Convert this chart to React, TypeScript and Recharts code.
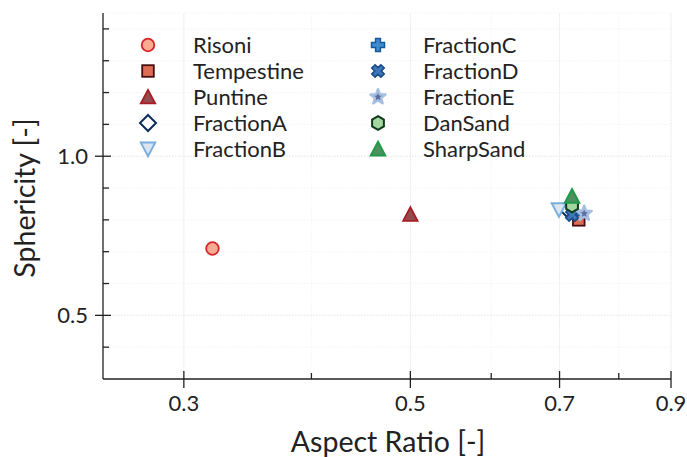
import React from 'react';
import { ScatterChart, Scatter, XAxis, YAxis, CartesianGrid, Legend, ReferenceLine } from 'recharts';

// Measured particle shape descriptors: aspect ratio vs. sphericity
const risoni = [{ ar: 0.32, sph: 0.71 }];
const tempestine = [{ ar: 0.731, sph: 0.80 }];
const puntine = [{ ar: 0.5, sph: 0.817 }];
const fractionA = [{ ar: 0.714, sph: 0.83 }];
const fractionB = [{ ar: 0.699, sph: 0.832 }];
const fractionC = [{ ar: 0.724, sph: 0.822 }];
const fractionD = [{ ar: 0.72, sph: 0.816 }];
const fractionE = [{ ar: 0.74, sph: 0.82 }];
const danSand = [{ ar: 0.72, sph: 0.845 }];
const sharpSand = [{ ar: 0.72, sph: 0.874 }];

const xTicks = [0.3, 0.4, 0.5, 0.6, 0.7, 0.8, 0.9];
const xMajor = [0.3, 0.5, 0.7, 0.9];
const yTicks = [0.4, 0.5, 0.6, 0.7, 0.8, 0.9, 1.0, 1.1, 1.2, 1.3, 1.4];
const yMajor = [0.5, 1.0];

const FONT = 'Lato, "Open Sans", sans-serif';
const INK = '#222';

type Kind = 'circle' | 'square' | 'up' | 'diamond' | 'down' | 'plus' | 'cross' | 'star' | 'hex';
type Style = { kind: Kind; fill: string; stroke: string; sw: number };

const styles: Record<string, Style> = {
  Risoni: { kind: 'circle', fill: '#fbab92', stroke: '#d7232a', sw: 1.8 },
  Tempestine: { kind: 'square', fill: '#dc6c54', stroke: '#4a0d10', sw: 1.8 },
  Puntine: { kind: 'up', fill: '#944b4d', stroke: '#a81d24', sw: 1.8 },
  FractionA: { kind: 'diamond', fill: '#ffffff', stroke: '#0b2d57', sw: 2 },
  FractionB: { kind: 'down', fill: '#dbe5f2', stroke: '#7aaedb', sw: 2 },
  FractionC: { kind: 'plus', fill: '#3f8ccc', stroke: '#14589c', sw: 1.5 },
  FractionD: { kind: 'cross', fill: '#3f76b6', stroke: '#154a88', sw: 1.5 },
  FractionE: { kind: 'star', fill: '#5d6f9f', stroke: '#a6bfe0', sw: 2.5 },
  DanSand: { kind: 'hex', fill: '#a3d79d', stroke: '#0f3a20', sw: 2 },
  SharpSand: { kind: 'up', fill: '#4c9160', stroke: '#1f9a48', sw: 2 },
};

const series = [
  { name: 'Risoni', data: risoni },
  { name: 'Tempestine', data: tempestine },
  { name: 'Puntine', data: puntine },
  { name: 'FractionA', data: fractionA },
  { name: 'FractionB', data: fractionB },
  { name: 'FractionC', data: fractionC },
  { name: 'FractionD', data: fractionD },
  { name: 'FractionE', data: fractionE },
  { name: 'DanSand', data: danSand },
  { name: 'SharpSand', data: sharpSand },
];

function Marker({ cx, cy, s }: { cx: number; cy: number; s: Style }) {
  const common = { fill: s.fill, stroke: s.stroke, strokeWidth: s.sw, strokeLinejoin: 'miter' as const };
  const pts = (arr: number[][]) => arr.map(([dx, dy]) => `${cx + dx},${cy + dy}`).join(' ');
  switch (s.kind) {
    case 'circle':
      return <circle cx={cx} cy={cy} r={6.3} {...common} />;
    case 'square':
      return <rect x={cx - 5.8} y={cy - 5.8} width={11.6} height={11.6} {...common} />;
    case 'up':
      return <polygon points={pts([[0, -7.2], [7.2, 6.4], [-7.2, 6.4]])} {...common} />;
    case 'down':
      return <polygon points={pts([[0, 7.2], [7.2, -6.4], [-7.2, -6.4]])} {...common} />;
    case 'diamond':
      return <polygon points={pts([[0, -8], [8, 0], [0, 8], [-8, 0]])} {...common} />;
    case 'plus': {
      const a = 6.5, b = 2.4;
      return (
        <polygon
          points={pts([[-b, -a], [b, -a], [b, -b], [a, -b], [a, b], [b, b], [b, a], [-b, a], [-b, b], [-a, b], [-a, -b], [-b, -b]])}
          {...common}
        />
      );
    }
    case 'cross': {
      const a = 6.5, b = 2.4;
      const raw = [[-b, -a], [b, -a], [b, -b], [a, -b], [a, b], [b, b], [b, a], [-b, a], [-b, b], [-a, b], [-a, -b], [-b, -b]];
      const c = Math.SQRT1_2;
      return <polygon points={pts(raw.map(([x, y]) => [c * (x - y), c * (x + y)]))} {...common} />;
    }
    case 'star': {
      const arr: number[][] = [];
      for (let i = 0; i < 10; i++) {
        const r = i % 2 === 0 ? 7.8 : 3.2;
        const ang = -Math.PI / 2 + (i * Math.PI) / 5;
        arr.push([r * Math.cos(ang), r * Math.sin(ang)]);
      }
      return <polygon points={pts(arr)} {...common} strokeLinejoin="round" />;
    }
    case 'hex': {
      const arr: number[][] = [];
      for (let i = 0; i < 6; i++) {
        const ang = -Math.PI / 2 + (i * Math.PI) / 3;
        arr.push([6.8 * Math.cos(ang), 6.8 * Math.sin(ang)]);
      }
      return <polygon points={pts(arr)} {...common} />;
    }
  }
  return null;
}

function XTick(props: any) {
  const { x, y, payload } = props;
  const major = xMajor.includes(payload.value);
  return (
    <g>
      <line x1={x} x2={x} y1={major ? y - 8 : y - 6} y2={major ? y + 9 : y} stroke={INK} strokeWidth={1.3} />
      {major && (
        <text x={x} y={y + 32} textAnchor="middle" fontSize={22} fontFamily={FONT} fill={INK}>
          {payload.value.toFixed(1)}
        </text>
      )}
    </g>
  );
}

function YTick(props: any) {
  const { x, y, payload } = props;
  const major = yMajor.includes(payload.value);
  return (
    <g>
      <line x1={major ? x - 8 : x} x2={major ? x + 8 : x + 6} y1={y} y2={y} stroke={INK} strokeWidth={1.3} />
      {major && (
        <text x={x - 15} y={y + 8} textAnchor="end" fontSize={22} fontFamily={FONT} fill={INK}>
          {payload.value.toFixed(1)}
        </text>
      )}
    </g>
  );
}

function LegendBox() {
  const rowH = 26;
  return (
    <svg width={440} height={140} style={{ display: 'block' }}>
      {series.map((s, i) => {
        const col = i < 5 ? 0 : 1;
        const row = i % 5;
        const mx = 28 + col * 230;
        const my = 15 + row * rowH;
        return (
          <g key={s.name}>
            <Marker cx={mx} cy={my} s={styles[s.name]} />
            <text x={mx + 45} y={my + 7.5} fontSize={22} fontFamily={FONT} fill={INK}>
              {s.name}
            </text>
          </g>
        );
      })}
    </svg>
  );
}

export default function App() {
  return (
    <div style={{ position: 'absolute', left: 0, top: 0 }}>
      <ScatterChart width={687} height={457} margin={{ top: 13, right: 16, bottom: 0, left: 0 }}>
        <CartesianGrid stroke="#f2f2f2" strokeDasharray="1.5 1.5" strokeWidth={0.8} />
        {xMajor.map((v) => (
          <ReferenceLine key={`x${v}`} x={v} stroke="#e8e8e8" strokeDasharray="1.5 1.5" strokeWidth={0.9} />
        ))}
        {yMajor.map((v) => (
          <ReferenceLine key={`y${v}`} y={v} stroke="#e8e8e8" strokeDasharray="1.5 1.5" strokeWidth={0.9} />
        ))}
        <XAxis
          dataKey="ar"
          type="number"
          scale="log"
          domain={[0.25, 0.9]}
          allowDataOverflow
          ticks={xTicks}
          interval={0}
          height={78}
          tickSize={0}
          tickMargin={0}
          tickLine={false}
          axisLine={{ stroke: INK, strokeWidth: 1.3 }}
          tick={<XTick />}
          label={() => (
            <text x={388} y={452} textAnchor="middle" fontSize={28.5} fontFamily={FONT} fill={INK}>
              Aspect Ratio [-]
            </text>
          )}
        />
        <XAxis xAxisId="top" orientation="top" type="number" height={0} tick={false} tickLine={false} axisLine={{ stroke: INK, strokeWidth: 1.3 }} />
        <YAxis
          dataKey="sph"
          type="number"
          domain={[0.3, 1.45]}
          allowDataOverflow
          ticks={yTicks}
          interval={0}
          width={103}
          tickSize={0}
          tickMargin={0}
          tickLine={false}
          axisLine={{ stroke: INK, strokeWidth: 1.3 }}
          tick={<YTick />}
          label={() => (
            <text x={35} y={198} transform="rotate(-90, 35, 198)" textAnchor="middle" fontSize={28.5} fontFamily={FONT} fill={INK}>
              Sphericity [-]
            </text>
          )}
        />
        <YAxis yAxisId="right" orientation="right" type="number" width={0} tick={false} tickLine={false} axisLine={{ stroke: INK, strokeWidth: 1.3 }} />
        <Legend
          layout="horizontal"
          verticalAlign="middle"
          align="center"
          content={() => <LegendBox />}
          wrapperStyle={{ left: 120, top: 30, width: 440 }}
        />
        {series.map((s) => (
          <Scatter
            key={s.name}
            name={s.name}
            data={s.data}
            isAnimationActive={false}
            shape={(p: any) => <Marker cx={p.cx} cy={p.cy} s={styles[s.name]} />}
          />
        ))}
      </ScatterChart>
    </div>
  );
}
